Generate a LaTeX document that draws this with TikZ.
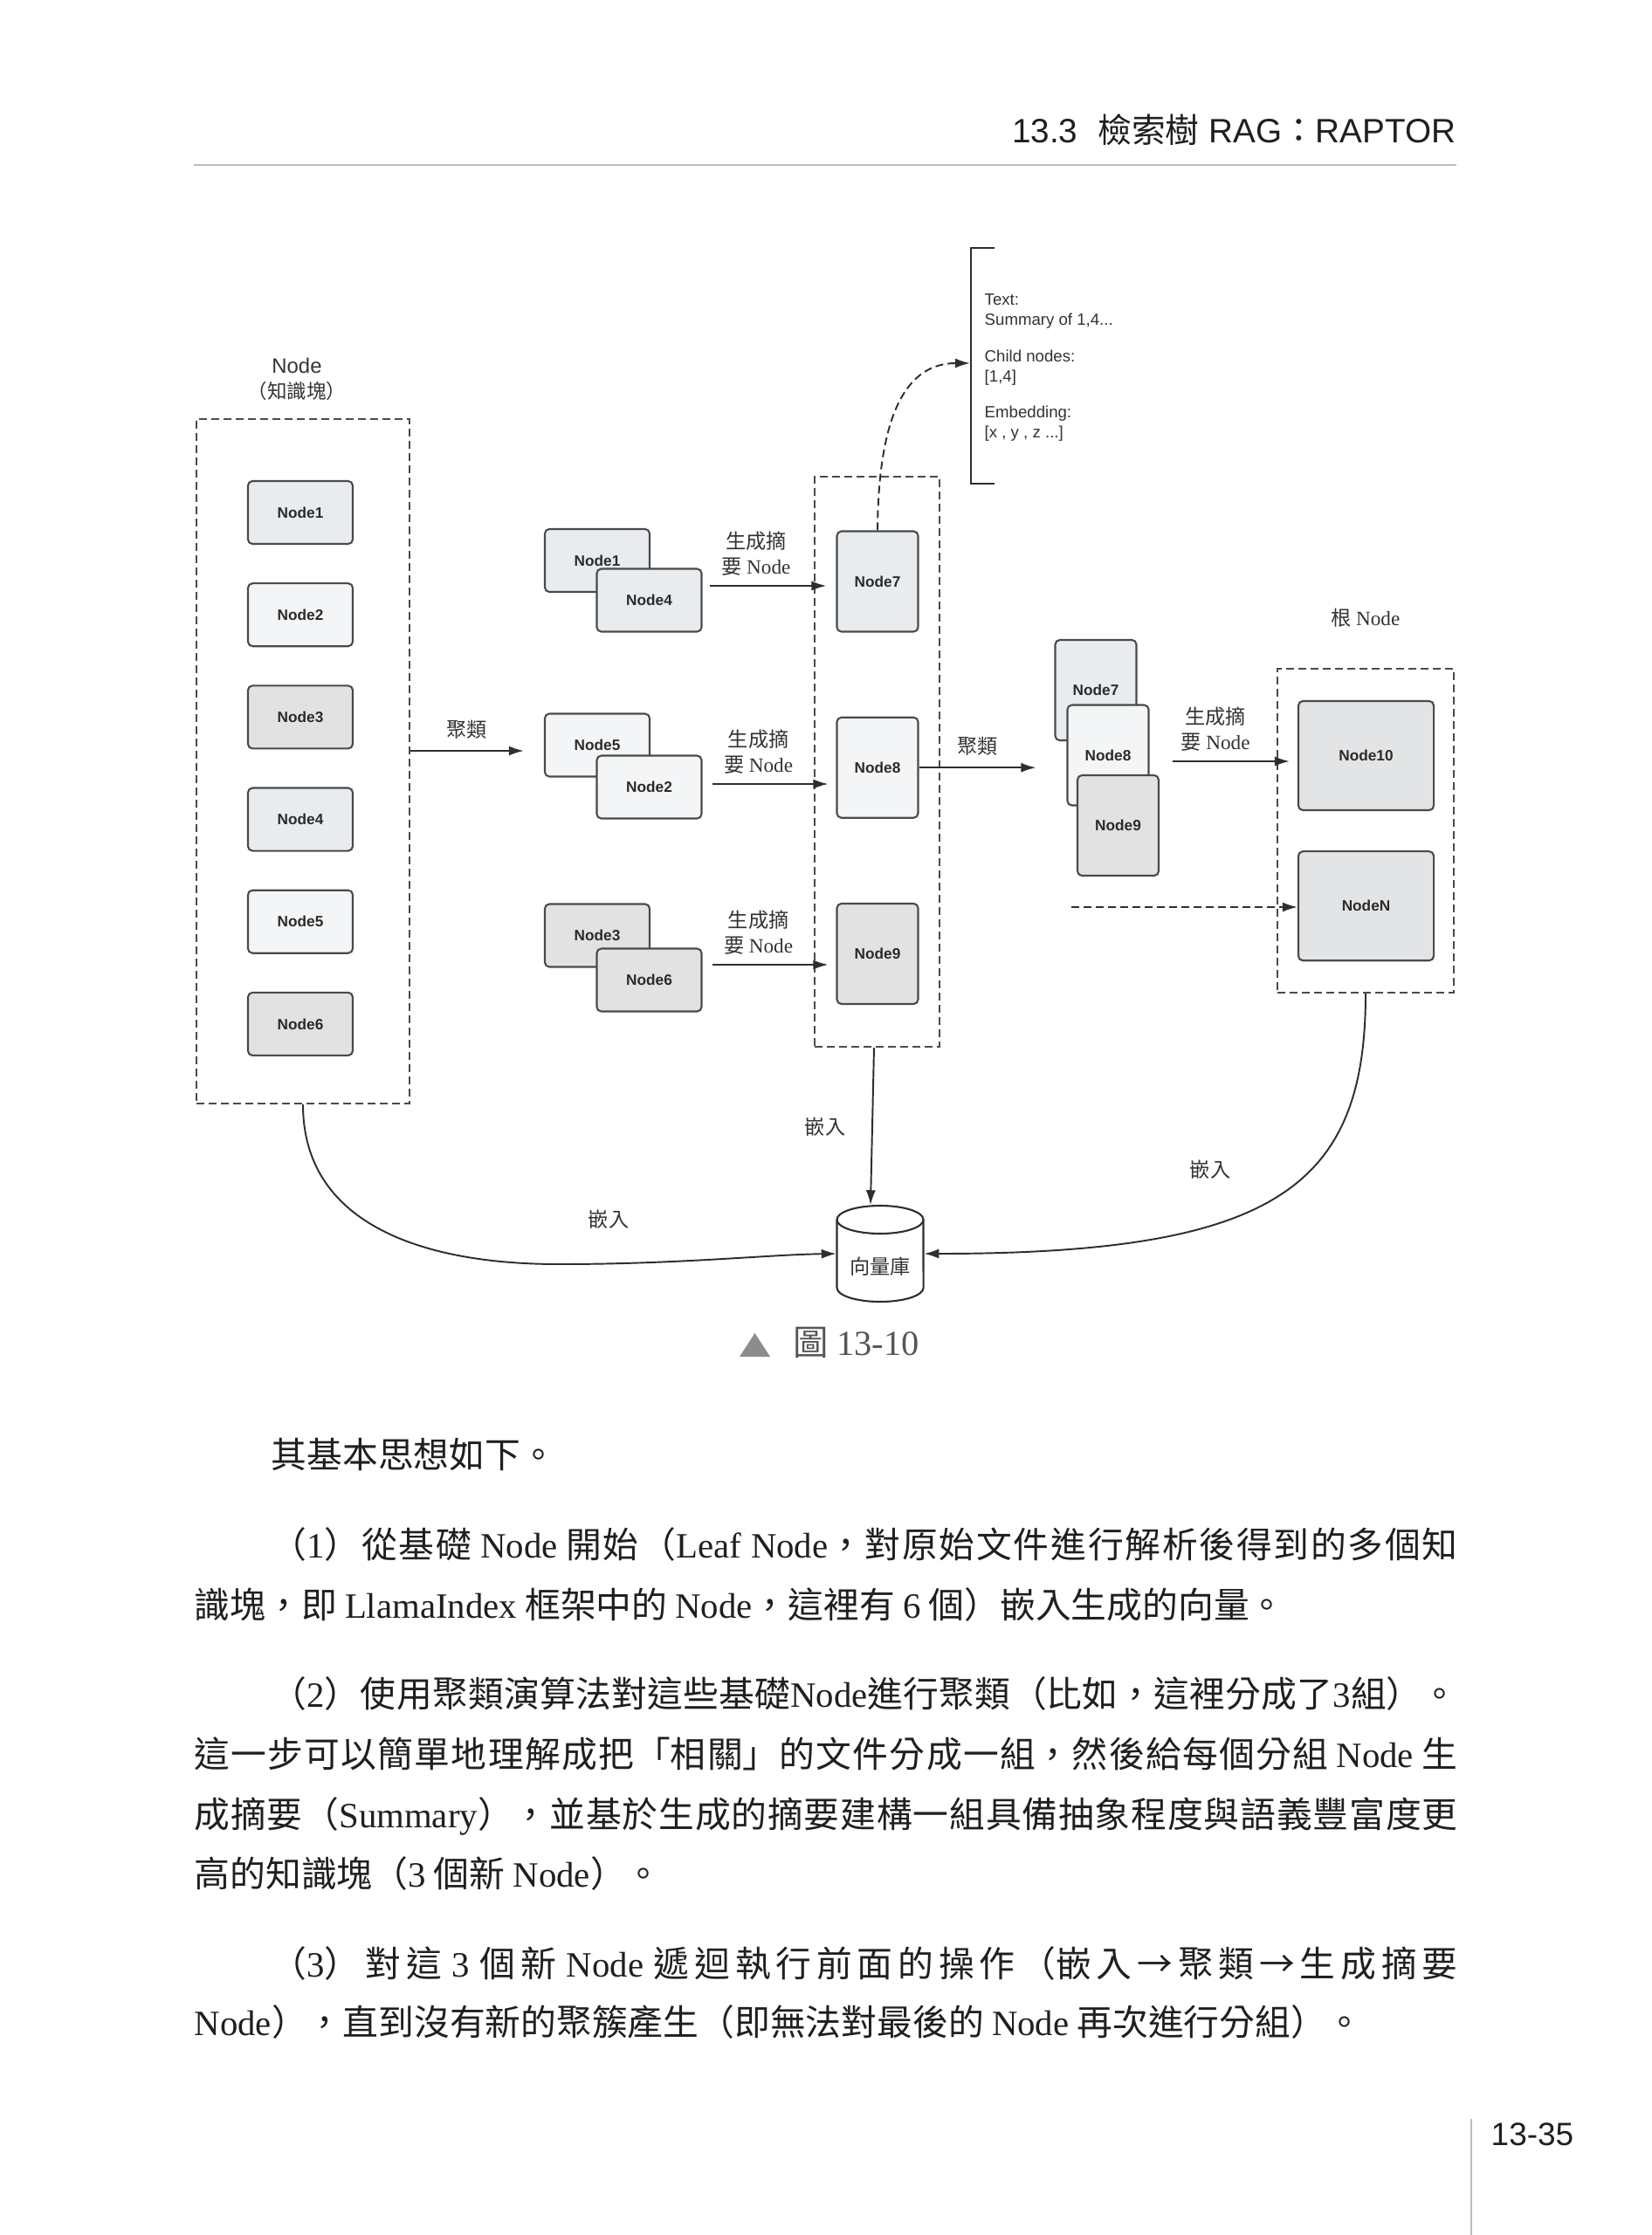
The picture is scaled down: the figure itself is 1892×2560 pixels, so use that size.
\documentclass[tikz,border=0pt]{standalone}
\usepackage{fontspec}
\usepackage{xcolor}
\setmainfont{Liberation Serif}
\setsansfont{Liberation Sans}
\newfontfamily\cjk{Noto Sans CJK TC}
\usetikzlibrary{positioning,arrows.meta}
\definecolor{NodeLine}{HTML}{4A4A4A}
\definecolor{NodeText}{HTML}{2B2B2B}
\definecolor{FillA}{HTML}{E9ECEF}
\definecolor{FillB}{HTML}{F3F5F6}
\definecolor{FillC}{HTML}{E2E2E2}
\definecolor{FillD}{HTML}{E2E4E6}
\definecolor{LineDark}{HTML}{2E2E2E}
\definecolor{LabelText}{HTML}{333333}
\definecolor{BodyText}{HTML}{1F1F1F}
\definecolor{RuleGray}{HTML}{BDBDBD}
\definecolor{CapGray}{HTML}{8C8C8C}
\definecolor{CapText}{HTML}{555555}

% CJK lines: stretch between characters, never break there
\XeTeXlinebreaklocale "zh"
\XeTeXlinebreakskip=0pt plus 3pt
\XeTeXlinebreakpenalty=10000

\newcommand\en[1]{{\rmfamily #1}}
\newcommand\jline[1]{\parbox[b]{14.46cm}{\parfillskip=0pt\relax #1}}
\newcommand\nodefont{\sffamily\bfseries\fontsize{4.9pt}{6pt}\selectfont}
\newcommand\lblfont{\cjk\fontsize{6.6pt}{8.2pt}\selectfont}
\newcommand\metafont{\sffamily\fontsize{5.3pt}{6.5pt}\selectfont}
\newcommand\bodyfont{\cjk\fontsize{11.6pt}{14pt}\selectfont}

\begin{document}
\begin{tikzpicture}[
  x=0.01cm, y=-0.01cm,
  leaf/.style={draw=NodeLine, line width=0.6pt, rounded corners=1.5pt, font=\nodefont, text=NodeText, inner sep=0pt},
  small/.style={leaf, minimum width=1.2cm, minimum height=0.72cm},
  tall/.style={leaf, minimum width=0.93cm, minimum height=1.15cm},
  big/.style={leaf, fill=FillD, minimum width=1.55cm, minimum height=1.25cm},
  group/.style={draw=NodeLine, line width=0.55pt, dash pattern=on 0.9mm off 0.5mm, inner sep=0pt},
  arrow/.style={-{Latex[length=1.7mm,width=1.1mm]}, line width=0.55pt, draw=LineDark},
  dashline/.style={dash pattern=on 0.9mm off 0.5mm},
  lbl/.style={font=\lblfont, text=LabelText, align=center, inner sep=1pt},
  meta/.style={font=\metafont, text=LabelText, align=left, inner sep=0pt},
  bodyline/.style={anchor=base west, inner sep=0pt, font=\bodyfont, text=BodyText}
]
\fill[white] (0,0) rectangle (1892,2560);
\useasboundingbox (0,0) rectangle (1892,2560);

% running head
\node[anchor=base east, inner sep=0pt, font=\sffamily\fontsize{11pt}{13pt}\selectfont, text=BodyText] (head) at (1668,163)
  {13.3\hspace{0.6em}{\cjk 檢索樹} RAG{\cjk ：}RAPTOR};
\draw[RuleGray, line width=0.6pt] (222,189) -- (1668,189);

% groups
\node[group, minimum width=2.44cm, minimum height=7.84cm] (leafbox) at (347,872) {};
\node[group, minimum width=1.43cm, minimum height=6.53cm] (sumbox) at (1004.5,872.5) {};
\node[group, minimum width=2.02cm, minimum height=3.71cm] (rootbox) at (1564,951.5) {};
\node[font=\sffamily\fontsize{6.8pt}{8.2pt}\selectfont, text=LabelText, align=center] (leaftitle) at (340,434)
  {Node\\{\cjk\fontsize{6.4pt}{8.2pt}\selectfont （知識塊）}};
\node[lbl, above=0.42cm of rootbox] (roottitle) {根 \en{Node}};

% leaf nodes
\node[small, fill=FillA] (l1) at (344,587) {Node1};
\node[small, fill=FillB, below=0.43cm of l1] (l2) {Node2};
\node[small, fill=FillC, below=0.43cm of l2] (l3) {Node3};
\node[small, fill=FillA, below=0.43cm of l3] (l4) {Node4};
\node[small, fill=FillB, below=0.43cm of l4] (l5) {Node5};
\node[small, fill=FillC, below=0.43cm of l5] (l6) {Node6};

% clusters
\node[small, fill=FillA] (pa1) at (684,642) {Node1};
\node[small, fill=FillA] (pa4) at (743.5,687.5) {Node4};
\node[small, fill=FillB] (pb5) at (684,853.5) {Node5};
\node[small, fill=FillB] (pb2) at (743.5,901.5) {Node2};
\node[small, fill=FillC] (pc3) at (684,1071.5) {Node3};
\node[small, fill=FillC] (pc6) at (743.5,1122.5) {Node6};

% summaries
\node[tall, fill=FillA] (s7) at (1005,666) {Node7};
\node[tall, fill=FillB, below=0.96cm of s7] (s8) {Node8};
\node[tall, fill=FillC, below=0.96cm of s8] (s9) {Node9};

% second clustering
\node[tall, fill=FillA] (t7) at (1255,790.5) {Node7};
\node[tall, fill=FillB] (t8) at (1269,865) {Node8};
\node[tall, fill=FillC] (t9) at (1280.5,945.5) {Node9};

% root
\node[big] (r10) at (1564.5,865.5) {Node10};
\node[big, below=0.45cm of r10] (rN) {NodeN};

% node record
\node[meta, anchor=north west] (meta) at (1127,336)
  {Text:\\Summary of 1,4...\\[0.19cm]Child nodes:\\{[1,4]}\\[0.19cm]Embedding:\\{[x , y , z ...]}};
\draw[LineDark, line width=0.6pt] (1139,284) -- (1112,284) -- (1112,554) -- (1139,554);
\coordinate (brk) at (1111,416);

% vector store
\node[minimum width=0.99cm, minimum height=1.1cm, inner sep=0pt] (vdb) at (1008,1436) {};
\draw[LineDark, line width=0.6pt] (958.5,1397) -- (958.5,1475)
  arc[start angle=180, end angle=360, x radius=0.495cm, y radius=0.16cm] -- (1057.5,1397);
\draw[LineDark, line width=0.6pt] (1008,1397) ellipse[x radius=0.495cm, y radius=0.16cm];
\node[lbl] (vdbtext) at (1008,1451) {向量庫};

% connectors
\draw[arrow] ([yshift=0.12cm]leafbox.east) coordinate (a0) -- ([xshift=-0.23cm]pb5.west |- a0)
  node[lbl, midway, above=0.09cm] {聚類};
\draw[arrow] ([xshift=0.08cm,yshift=0.165cm]pa4.east) coordinate (a1) -- ([xshift=-0.11cm]s7.west |- a1)
  node[lbl, pos=0.4, above=0.07cm] {生成摘\\要 \en{Node}};
\draw[arrow] ([xshift=0.11cm,yshift=0.035cm]pb2.east) coordinate (a2) -- ([xshift=-0.09cm]s8.west |- a2)
  node[lbl, pos=0.4, above=0.07cm] {生成摘\\要 \en{Node}};
\draw[arrow] ([xshift=0.11cm,yshift=0.175cm]pc6.east) coordinate (a3) -- ([xshift=-0.09cm]s9.west |- a3)
  node[lbl, pos=0.4, above=0.07cm] {生成摘\\要 \en{Node}};
\draw[arrow, dashline] (s7.north) .. controls (1006,470) and (1040,416) .. (brk);
\draw[arrow] (s8.east) -- ([xshift=-0.35cm]t8.west |- s8.east)
  node[lbl, midway, above=0.09cm] {聚類};
\draw[arrow] ([xshift=0.26cm,yshift=-0.07cm]t8.east) coordinate (a4) -- ([xshift=-0.09cm]r10.west |- a4)
  node[lbl, pos=0.37, above=0.07cm] {生成摘\\要 \en{Node}};
\coordinate (more) at (1227,1039);
\draw[arrow, dashline] (more) -- (more -| rN.west);
\draw[arrow] ([xshift=-0.035cm]sumbox.south) -- ([xshift=-0.11cm]vdb.north);
\draw[arrow] (leafbox.south) .. controls (347,1400) and (480,1448) .. (640,1448)
  .. controls (780,1448) and (880,1437) .. (vdb.west);
\draw[arrow] (rootbox.south) .. controls (1564,1360) and (1460,1436) .. (vdb.east);
\node[lbl] (emb1) at (945,1291) {嵌入};
\node[lbl] (emb2) at (697,1397) {嵌入};
\node[lbl] (emb3) at (1386,1340) {嵌入};

% caption
\fill[CapGray] (847,1554) -- (882,1554) -- (864.5,1527) -- cycle;
\node[anchor=base west, inner sep=0pt, text=CapText, font=\cjk\fontsize{11.5pt}{13pt}\selectfont] (cap) at (908,1552)
  {圖 \en{13-10}};

% body text
\node[bodyline] (p0) at (310,1681) {其基本思想如下。};
\node[bodyline] (p1a) at (222,1784) {\jline{\hspace*{0.88cm}（\en{1}）從基礎 \en{Node} 開始（\en{Leaf Node}，對原始文件進行解析後得到的多個知}};
\node[bodyline] (p1b) at (222,1853) {識塊，即 \en{LlamaIndex} 框架中的 \en{Node}，這裡有 \en{6} 個）嵌入生成的向量。};
\node[bodyline] (p2a) at (222,1955) {\jline{\hspace*{0.88cm}（\en{2}）使用聚類演算法對這些基礎\en{Node}進行聚類（比如，這裡分成了\en{3}組）。}};
\node[bodyline] (p2b) at (222,2024) {\jline{這一步可以簡單地理解成把「相關」的文件分成一組，然後給每個分組 \en{Node} 生}};
\node[bodyline] (p2c) at (222,2093) {\jline{成摘要（\en{Summary}），並基於生成的摘要建構一組具備抽象程度與語義豐富度更}};
\node[bodyline] (p2d) at (222,2161) {高的知識塊（\en{3} 個新 \en{Node}）。};
\node[bodyline] (p3a) at (222,2264) {\jline{\hspace*{0.88cm}（\en{3}）對這 \en{3} 個新 \en{Node} 遞迴執行前面的操作（嵌入→聚類→生成摘要}};
\node[bodyline] (p3b) at (222,2331) {\en{Node}），直到沒有新的聚簇產生（即無法對最後的 \en{Node} 再次進行分組）。};

% folio
\draw[RuleGray, line width=0.6pt] (1685,2427) -- (1685,2560);
\node[anchor=base west, inner sep=0pt, text=BodyText, font=\sffamily\fontsize{10.5pt}{12pt}\selectfont] (folio) at (1707,2457) {13-35};
\end{tikzpicture}
\end{document}
